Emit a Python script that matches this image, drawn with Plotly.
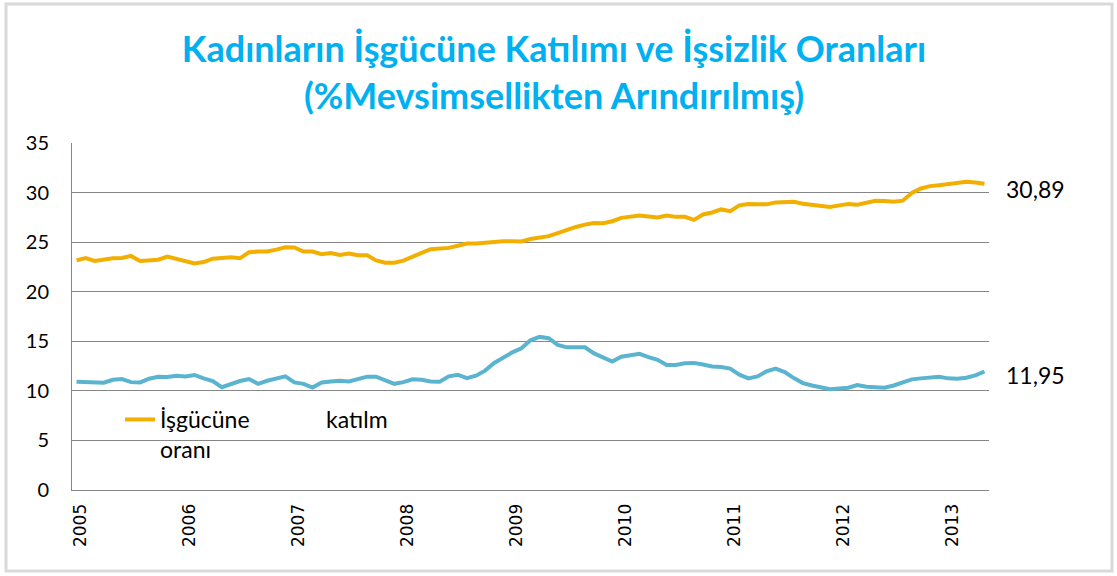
import pandas as pd
import plotly.graph_objects as go

# Monthly categories Jan 2005 .. May 2013
months = [d.strftime("%Y-%m") for d in pd.date_range("2005-01-01", "2013-05-01", freq="MS")]
year_ticks = ["2005-01", "2006-01", "2007-01", "2008-01", "2009-01",
              "2010-01", "2011-01", "2012-01", "2013-01"]
year_labels = ["2005", "2006", "2007", "2008", "2009", "2010", "2011", "2012", "2013"]

participation = [
    23.16, 23.40, 23.10, 23.27, 23.37, 23.40, 23.61, 23.10, 23.13, 23.23,
    23.54, 23.33, 23.16, 22.86, 22.99, 23.33, 23.40, 23.47, 23.37, 23.98,
    24.05, 24.05, 24.25, 24.49, 24.46, 24.05, 24.05, 23.78, 23.91, 23.71,
    23.84, 23.67, 23.67, 23.16, 22.93, 22.93, 23.13, 23.47, 23.91, 24.29,
    24.32, 24.42, 24.63, 24.86, 24.86, 24.97, 25.00, 25.10, 25.10, 25.07,
    25.31, 25.41, 25.61, 25.92, 26.26, 26.53, 26.77, 26.94, 26.90, 27.11,
    27.45, 27.62, 27.69, 27.59, 27.48, 27.69, 27.55, 27.55, 27.24, 27.79,
    27.99, 28.30, 28.13, 28.71, 28.84, 28.81, 28.81, 29.01, 29.05, 29.08,
    28.88, 28.78, 28.71, 28.54, 28.71, 28.84, 28.78, 28.98, 29.18, 29.15,
    29.08, 29.18, 29.97, 30.41, 30.65, 30.75, 30.85, 31.02, 31.09, 31.02,
    30.89,
]

unemployment = [
    10.92, 10.92, 10.92, 10.82, 11.12, 11.19, 10.88, 10.85, 11.22, 11.43,
    11.39, 11.53, 11.46, 11.60, 11.26, 10.99, 10.37, 10.68, 10.99, 11.19,
    10.71, 11.02, 11.29, 11.46, 10.85, 10.71, 10.34, 10.85, 10.95, 11.02,
    10.95, 11.19, 11.43, 11.43, 11.02, 10.71, 10.88, 11.16, 11.12, 10.95,
    10.92, 11.46, 11.63, 11.29, 11.53, 12.04, 12.82, 13.40, 13.88, 14.29,
    15.10, 15.44, 15.31, 14.63, 14.39, 14.39, 14.39, 13.78, 13.33, 12.96,
    13.44, 13.54, 13.74, 13.40, 13.13, 12.62, 12.62, 12.79, 12.82, 12.65,
    12.45, 12.41, 12.24, 11.63, 11.26, 11.46, 11.97, 12.24, 11.90, 11.29,
    10.78, 10.54, 10.31, 10.17, 10.24, 10.31, 10.58, 10.41, 10.37, 10.31,
    10.54, 10.82, 11.16, 11.26, 11.33, 11.43, 11.26, 11.22, 11.33, 11.56,
    11.95,
]

YELLOW = "#F2AF00"
BLUE = "#5BB4CF"
FONT = "Lato"

fig = go.Figure()
fig.add_trace(go.Scatter(
    x=months, y=participation, mode="lines",
    line=dict(color=YELLOW, width=4),
    name="İşgücüne" + "\u00a0" * 13 + "katılm<br>oranı",
    showlegend=True,
))
fig.add_trace(go.Scatter(
    x=months, y=unemployment, mode="lines",
    line=dict(color=BLUE, width=4),
    name="İşsizlik oranı",
    showlegend=False,
))

fig.add_annotation(x=months[-1], y=participation[-1], text="30,89",
                   showarrow=False, xanchor="left", xshift=20, yshift=-5,
                   font=dict(family=FONT, size=23, color="black"))
fig.add_annotation(x=months[-1], y=unemployment[-1], text="11,95",
                   showarrow=False, xanchor="left", xshift=20, yshift=-3,
                   font=dict(family=FONT, size=23, color="black"))

# outer chart frame
fig.add_shape(type="rect", xref="paper", yref="paper",
              x0=(6 - 72) / 917, x1=(1112 - 72) / 917,
              y0=(490 - 571) / 347, y1=(490 - 4) / 347,
              line=dict(color="#D9D9D9", width=3), layer="below")

fig.update_layout(
    width=1117, height=576,
    margin=dict(l=72, r=128, t=143, b=86),
    paper_bgcolor="white", plot_bgcolor="white",
    title=dict(
        text="Kadınların İşgücüne Katılımı ve İşsizlik Oranları<br>(%Mevsimsellikten Arındırılmış)",
        x=554 / 1117, xanchor="center", xref="container", yref="container",
        y=1 - 62 / 576, yanchor="middle",
        font=dict(family=FONT, size=36, color="#00B0F0", weight="bold"),
    ),
    font=dict(family=FONT, color="black"),
    legend=dict(
        x=(120 - 72) / 917, y=(490 - 398) / 347, xanchor="left", yanchor="top",
        bgcolor="rgba(0,0,0,0)", borderwidth=0, valign="top",
        font=dict(family=FONT, size=23, color="black"),
    ),
    xaxis=dict(
        type="category", range=[-0.5, len(months) - 0.5],
        tickmode="array", tickvals=year_ticks, ticktext=year_labels,
        tickangle=-90, tickfont=dict(family="DejaVu Sans", size=17, color="black"),
        showgrid=False, showline=True, linecolor="#868686", linewidth=1,
        ticks="", zeroline=False, ticklabelstandoff=6, ticklabelshift=4,
    ),
    yaxis=dict(
        range=[0, 35], tickmode="array", tickvals=[0, 5, 10, 15, 20, 25, 30, 35],
        tickfont=dict(family=FONT, size=20, color="black"),
        showgrid=True, gridcolor="#868686", gridwidth=1,
        showline=True, linecolor="#868686", linewidth=1,
        ticks="", ticklabelstandoff=18, zeroline=False,
    ),
)

fig.write_html("out.html", config={"displayModeBar": False},
               post_script="document.body.style.margin='0';")
